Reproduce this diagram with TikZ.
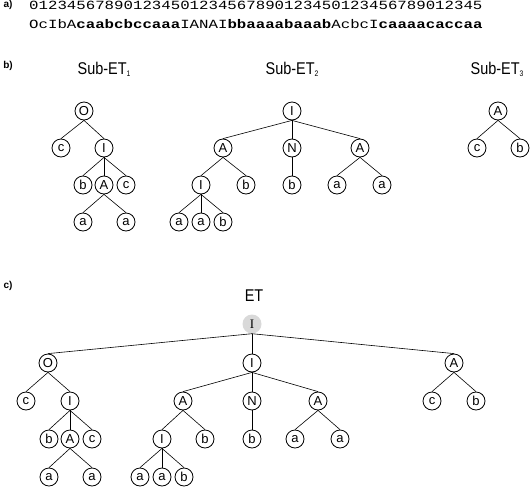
\documentclass[tikz,border=0pt]{standalone}
\usepackage{fontspec}
\setmainfont{Liberation Serif}
\setsansfont{Liberation Sans}
\setmonofont{Liberation Mono}
\usetikzlibrary{positioning}

\newcommand{\subidx}[1]{\raisebox{-2pt}{\fontsize{8}{8}\selectfont #1}}

\begin{document}
\begin{tikzpicture}[x=1pt, y=-1pt,
    nd/.style={draw, circle, line width=0.8pt, minimum size=18pt, inner sep=0pt,
               font=\sffamily\fontsize{13}{13}\selectfont},
    rootnd/.style={circle, fill=black!15, minimum size=19pt, inner sep=0pt,
               font=\rmfamily\fontsize{13}{13}\selectfont},
    panel/.style={font=\sffamily\bfseries\fontsize{10}{10}\selectfont},
    title/.style={font=\sffamily\fontsize{17}{17}\selectfont},
    seq/.style={anchor=base west, inner sep=0pt,
                font=\ttfamily\fontsize{12.5}{12.5}\selectfont},
    edge/.style={line width=0.6pt}]
  \useasboundingbox (0,0) rectangle (530,488);

  % a) sequence
  \node[panel] (pa) at (8,5) {a)};
  \node[seq] (pos) at (29,9.8)
    {\scalebox{1.259}[1]{012345678901234501234567890123450123456789012345}};
  \node[seq] (str) at (29,28.5)
    {\scalebox{1.259}[1]{OcIbA\textbf{caabcbccaaa}IANAI\textbf{bbaaaabaaab}AcbcI\textbf{caaaacaccaa}}};

  % b) sub-trees
  \node[panel] (pb) at (8,66) {b)};
  \node[title] (t1) at (104,69) {\scalebox{0.85}[1]{Sub-ET\subidx{1}}};
  \node[title] (t2) at (292,69) {\scalebox{0.85}[1]{Sub-ET\subidx{2}}};
  \node[title] (t3) at (497,69) {\scalebox{0.85}[1]{Sub-ET\subidx{3}}};

  \node[nd] (b1o)  at (84,111)  {O};
  \node[nd] (b1c)  at (61,148)  {c};
  \node[nd] (b1i)  at (104,148) {I};
  \node[nd] (b1b)  at (83,185)  {b};
  \node[nd] (b1a)  at (104,185) {A};
  \node[nd] (b1cc) at (126,185) {c};
  \node[nd] (b1aa) at (83,222)  {a};
  \node[nd] (b1ab) at (126,222) {a};

  \node[nd] (b2i)  at (292,111) {I};
  \node[nd] (b2a)  at (223,148) {A};
  \node[nd] (b2n)  at (292,148) {N};
  \node[nd] (b2ar) at (360,148) {A};
  \node[nd] (b2i2) at (201,185) {I};
  \node[nd] (b2b)  at (246,185) {b};
  \node[nd] (b2b2) at (292,185) {b};
  \node[nd] (b2aa) at (337,185) {a};
  \node[nd] (b2ab) at (382,185) {a};
  \node[nd] (b2l1) at (179,222) {a};
  \node[nd] (b2l2) at (201,222) {a};
  \node[nd] (b2l3) at (223,222) {b};

  \node[nd] (b3a) at (498,111) {A};
  \node[nd] (b3c) at (477,148) {c};
  \node[nd] (b3b) at (520,148) {b};

  % c) whole tree
  \node[panel] (pc) at (8,286) {c)};
  \node[title] (t4) at (254,296) {\scalebox{0.85}[1]{ET}};
  \node[rootnd] (cr) at (252,324) {I};

  \node[nd] (co)   at (48,363)  {O};
  \node[nd] (cc)   at (26,401)  {c};
  \node[nd] (ci)   at (70,401)  {I};
  \node[nd] (cb)   at (49,439)  {b};
  \node[nd] (ca)   at (70,439)  {A};
  \node[nd] (cc2)  at (92,439)  {c};
  \node[nd] (caa)  at (49,477)  {a};
  \node[nd] (cab)  at (92,477)  {a};

  \node[nd] (cmi)  at (252,363) {I};
  \node[nd] (cma)  at (183,401) {A};
  \node[nd] (cmn)  at (252,401) {N};
  \node[nd] (cmar) at (318,401) {A};
  \node[nd] (cmi2) at (162,439) {I};
  \node[nd] (cmb)  at (205,439) {b};
  \node[nd] (cmb2) at (252,439) {b};
  \node[nd] (cmaa) at (295,439) {a};
  \node[nd] (cmab) at (340,439) {a};
  \node[nd] (cl1)  at (140,477) {a};
  \node[nd] (cl2)  at (162,477) {a};
  \node[nd] (cl3)  at (184,477) {b};

  \node[nd] (cra) at (454,363) {A};
  \node[nd] (crc) at (432,401) {c};
  \node[nd] (crb) at (476,401) {b};

  \foreach \p/\c in {b1o/b1c, b1o/b1i, b1i/b1b, b1i/b1a, b1i/b1cc, b1a/b1aa, b1a/b1ab,
      b2i/b2a, b2i/b2n, b2i/b2ar, b2a/b2i2, b2a/b2b, b2n/b2b2, b2ar/b2aa, b2ar/b2ab,
      b2i2/b2l1, b2i2/b2l2, b2i2/b2l3, b3a/b3c, b3a/b3b,
      cr/co, cr/cmi, cr/cra, co/cc, co/ci, ci/cb, ci/ca, ci/cc2, ca/caa, ca/cab,
      cmi/cma, cmi/cmn, cmi/cmar, cma/cmi2, cma/cmb, cmn/cmb2, cmar/cmaa, cmar/cmab,
      cmi2/cl1, cmi2/cl2, cmi2/cl3, cra/crc, cra/crb}
    \draw[edge] (\p.south) -- (\c.north);
\end{tikzpicture}
\end{document}
